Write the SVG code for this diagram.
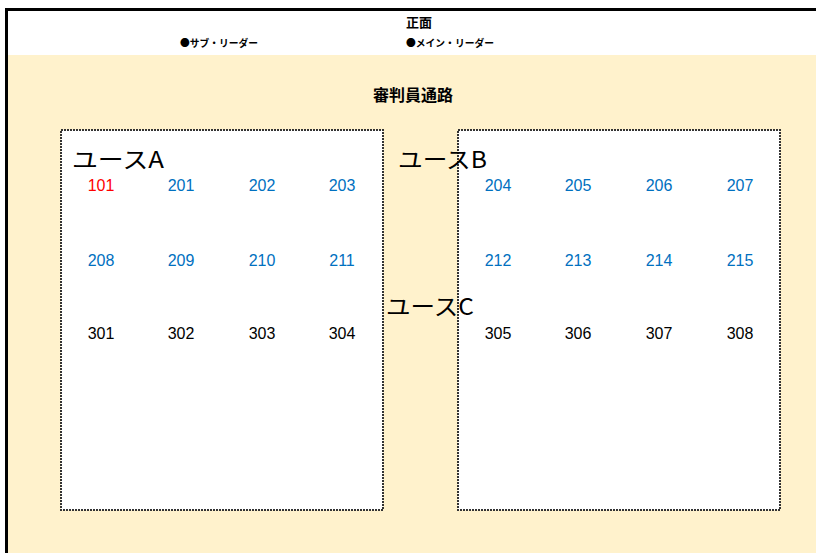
<svg xmlns="http://www.w3.org/2000/svg" width="816" height="553" viewBox="0 0 816 553">
<style>
.jp{font-family:"Noto Sans CJK JP","Noto Sans",sans-serif;fill:#000}
.b{font-weight:bold}
.num{font-family:"Liberation Sans",Arial,sans-serif;font-size:16px;text-anchor:middle}
.red{fill:#FF0000}.blue{fill:#0070C0}.blk{fill:#000}
.box{fill:#fff;stroke:#333;stroke-width:2;stroke-dasharray:2 1}
.youth{font-size:23px}
</style>
<rect x="0" y="0" width="816" height="553" fill="#fff"/>
<rect x="8" y="55" width="808" height="498" fill="#FFF2CC"/>
<path d="M6.5 553 V9.5 H816" fill="none" stroke="#000" stroke-width="3"/>
<g id="header">
<text class="jp b" x="419" y="27" font-size="13" text-anchor="middle">正面</text>
<text class="jp b" x="180" y="47" font-size="10" textLength="78" lengthAdjust="spacingAndGlyphs">●サブ・リーダー</text>
<text class="jp b" x="406" y="47" font-size="10" textLength="88" lengthAdjust="spacingAndGlyphs">●メイン・リーダー</text>
<text class="jp b" x="413" y="101" font-size="16" text-anchor="middle">審判員通路</text>
</g>
<g id="boxA"><rect class="box" x="61" y="130" width="322" height="380"/></g>
<g id="boxB"><rect class="box" x="458" y="130" width="322" height="380"/></g>
<g id="labels">
<text class="jp youth" x="72" y="168" textLength="92" lengthAdjust="spacingAndGlyphs">ユースA</text>
<text class="jp youth" x="398" y="168" textLength="89" lengthAdjust="spacingAndGlyphs">ユースB</text>
<text class="jp youth" x="386" y="315" textLength="88" lengthAdjust="spacingAndGlyphs">ユースC</text>
</g>
<g id="row1">
<text class="num red" x="101" y="191">101</text>
<text class="num blue" x="181" y="191">201</text>
<text class="num blue" x="262" y="191">202</text>
<text class="num blue" x="342" y="191">203</text>
<text class="num blue" x="498" y="191">204</text>
<text class="num blue" x="578" y="191">205</text>
<text class="num blue" x="659" y="191">206</text>
<text class="num blue" x="740" y="191">207</text>
</g>
<g id="row2">
<text class="num blue" x="101" y="266">208</text>
<text class="num blue" x="181" y="266">209</text>
<text class="num blue" x="262" y="266">210</text>
<text class="num blue" x="342" y="266">211</text>
<text class="num blue" x="498" y="266">212</text>
<text class="num blue" x="578" y="266">213</text>
<text class="num blue" x="659" y="266">214</text>
<text class="num blue" x="740" y="266">215</text>
</g>
<g id="row3">
<text class="num blk" x="101" y="339">301</text>
<text class="num blk" x="181" y="339">302</text>
<text class="num blk" x="262" y="339">303</text>
<text class="num blk" x="342" y="339">304</text>
<text class="num blk" x="498" y="339">305</text>
<text class="num blk" x="578" y="339">306</text>
<text class="num blk" x="659" y="339">307</text>
<text class="num blk" x="740" y="339">308</text>
</g>
</svg>
